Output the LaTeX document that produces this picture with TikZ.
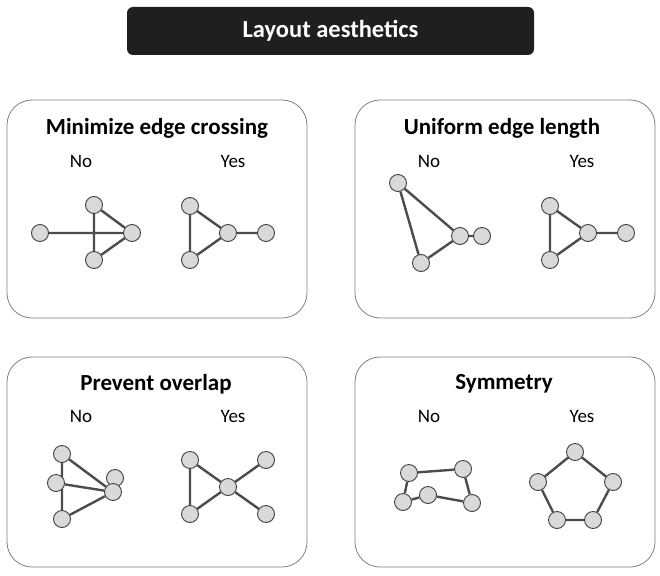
\documentclass[tikz,border=0pt]{standalone}
\usepackage{fontspec}
\setmainfont{Carlito}
\usetikzlibrary{backgrounds}
\begin{document}
\begin{tikzpicture}[x=1pt,y=-1pt,
  vtx/.style={circle,draw=black!75,fill=black!15,line width=0.9pt,minimum size=17pt,inner sep=0pt},
  edg/.style={draw=black!70,line width=2.4pt},
  panel/.style={draw=black!50,line width=0.8pt,rounded corners=25pt},
  ptitle/.style={font=\bfseries\fontsize{23}{27}\selectfont},
  lab/.style={font=\fontsize{19}{23}\selectfont}]
\useasboundingbox (0,0) rectangle (660,575);
% title
\node[fill=black!88,rounded corners=6pt,minimum width=407pt,minimum height=48pt,text=white,font=\bfseries\fontsize{24.5}{29}\selectfont] (title) at (330.5,31) {Layout aesthetics};
% panels
\draw[panel] (7,100) rectangle (307,318);
\draw[panel] (355,100) rectangle (655,318);
\draw[panel] (7,357) rectangle (307,567);
\draw[panel] (355,357) rectangle (655,567);
% panel 1
\node[ptitle] (t1) at (157,128) {Minimize edge crossing};
\node[lab] (n1) at (81,161) {No};
\node[lab] (y1) at (233,161) {Yes};
\node[vtx] (a1) at (40,233) {};
\node[vtx] (a2) at (94,205) {};
\node[vtx] (a3) at (132,233) {};
\node[vtx] (a4) at (94,260) {};
\node[vtx] (b1) at (190,206) {};
\node[vtx] (b2) at (190,260) {};
\node[vtx] (b3) at (228,233) {};
\node[vtx] (b4) at (266,233) {};
% panel 2
\node[ptitle] (t2) at (502,128) {Uniform edge length};
\node[lab] (n2) at (429,161) {No};
\node[lab] (y2) at (582,161) {Yes};
\node[vtx] (c1) at (398,183) {};
\node[vtx] (c2) at (460,236) {};
\node[vtx] (c3) at (482,236) {};
\node[vtx] (c4) at (421,263) {};
\node[vtx] (d1) at (550,206) {};
\node[vtx] (d2) at (550,260) {};
\node[vtx] (d3) at (588,233) {};
\node[vtx] (d4) at (626,233) {};
% panel 3
\node[ptitle] (t3) at (156,384) {Prevent overlap};
\node[lab] (n3) at (81,416) {No};
\node[lab] (y3) at (233,416) {Yes};
\node[vtx] (e1) at (62,454) {};
\node[vtx] (e2) at (56,483) {};
\node[vtx] (e3) at (62,519) {};
\node[vtx] (e4) at (115,478) {};
\node[vtx] (e5) at (113,492) {};
\node[vtx] (f1) at (190,460) {};
\node[vtx] (f2) at (190,514) {};
\node[vtx] (f3) at (228,487) {};
\node[vtx] (f4) at (266,460) {};
\node[vtx] (f5) at (266,514) {};
% panel 4
\node[ptitle] (t4) at (504,384) {Symmetry};
\node[lab] (n4) at (429,416) {No};
\node[lab] (y4) at (582,416) {Yes};
\node[vtx] (g1) at (409,473) {};
\node[vtx] (g2) at (463,469) {};
\node[vtx] (g3) at (403,502) {};
\node[vtx] (g4) at (428,495) {};
\node[vtx] (g5) at (472,503) {};
\node[vtx] (h1) at (575,452) {};
\node[vtx] (h2) at (538,482) {};
\node[vtx] (h3) at (613,482) {};
\node[vtx] (h4) at (557,520) {};
\node[vtx] (h5) at (593,520) {};
% edges
\begin{scope}[on background layer]
\draw[edg] (a1.center) -- (a3.center) (a2.center) -- (a4.center) (a2) -- (a3) (a4) -- (a3);
\draw[edg] (b1) -- (b2) (b1) -- (b3) (b2) -- (b3) (b3) -- (b4);
\draw[edg] (c1) -- (c2) (c1) -- (c4) (c4) -- (c2) (c2) -- (c3);
\draw[edg] (d1) -- (d2) (d1) -- (d3) (d2) -- (d3) (d3) -- (d4);
\draw[edg] (e1.center) -- (e3.center) (e1) -- (e5) (e2) -- (e5) (e3) -- (e5);
\draw[edg] (f1) -- (f2) (f1) -- (f3) (f2) -- (f3) (f3) -- (f4) (f3) -- (f5);
\draw[edg] (g1) -- (g2) (g1) -- (g3) (g3) -- (g4) (g4) -- (g5) (g5) -- (g2);
\draw[edg] (h1) -- (h2) (h2) -- (h4) (h4) -- (h5) (h5) -- (h3) (h3) -- (h1);
\end{scope}
\end{tikzpicture}
\end{document}
